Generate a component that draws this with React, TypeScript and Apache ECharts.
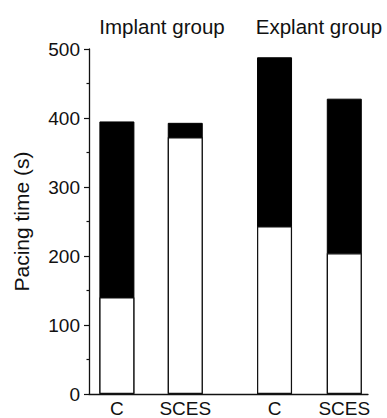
import React, { useEffect, useRef } from "react";
import * as echarts from "echarts";

const categories = ["C", "SCES", "C", "SCES"];
const positions = [1, 3.45, 6.65, 9.15];
const totals = [395, 393, 488, 428];
const whiteParts = [140, 372, 243, 204];
const groupTitles = ["Implant group", "Explant group"];
const yTicks = [0, 100, 200, 300, 400, 500];

const FONT = "'Liberation Sans', Arial, Helvetica, sans-serif";
const INK = "#111";

export default function App() {
  const ref = useRef<HTMLDivElement>(null);
  useEffect(() => {
    if (!ref.current) return;
    const chart = echarts.init(ref.current, undefined, { renderer: "svg" });
    const totalData = positions.map((x, i) => [x, totals[i]]);
    const whiteData = positions.map((x, i) => [x, whiteParts[i]]);
    chart.setOption({
      animation: false,
      backgroundColor: "#fff",
      textStyle: { fontFamily: FONT, color: INK },
      title: [
        {
          text: groupTitles[0],
          left: 162,
          top: 16,
          padding: 0,
          textAlign: "center",
          textStyle: { fontFamily: FONT, fontSize: 20.5, fontWeight: "normal", color: INK },
        },
        {
          text: groupTitles[1],
          left: 319,
          top: 16,
          padding: 0,
          textAlign: "center",
          textStyle: { fontFamily: FONT, fontSize: 20.5, fontWeight: "normal", color: INK },
        },
      ],
      grid: { left: 89, right: 19, top: 49, bottom: 23, containLabel: false },
      xAxis: {
        type: "value",
        min: 0,
        max: 10,
        splitLine: { show: false },
        axisTick: { show: false },
        axisLine: { show: true, onZero: false, lineStyle: { color: INK, width: 1.3 } },
        axisLabel: {
          customValues: positions,
          formatter: (v: number) => {
            const i = positions.indexOf(v);
            return i >= 0 ? categories[i] : "";
          },
          fontFamily: FONT,
          fontSize: 19,
          color: INK,
          margin: 5,
        },
      },
      yAxis: {
        type: "value",
        min: 0,
        max: 500,
        interval: 100,
        name: "Pacing time (s)",
        nameLocation: "middle",
        nameGap: 57,
        nameTextStyle: { fontFamily: FONT, fontSize: 21, color: INK },
        splitLine: { show: false },
        axisLine: { show: true, lineStyle: { color: INK, width: 1.3 } },
        axisTick: { show: true, length: 5, lineStyle: { color: INK, width: 1.2 } },
        minorTick: { show: true, splitNumber: 2, length: 2.5, lineStyle: { color: INK, width: 1.2 } },
        axisLabel: {
          fontFamily: FONT,
          fontSize: 19,
          color: INK,
          margin: 9,
          formatter: (v: number) => (yTicks.includes(v) ? String(v) : ""),
        },
      },
      series: [
        {
          type: "bar",
          barWidth: 35,
          data: totalData,
          itemStyle: { color: "#000", borderColor: "#000", borderWidth: 1 },
        },
        {
          type: "bar",
          barWidth: 35,
          barGap: "-100%",
          data: whiteData,
          itemStyle: { color: "#fff", borderColor: INK, borderWidth: 1.2 },
        },
      ],
    });
    return () => chart.dispose();
  }, []);
  return <div ref={ref} style={{ width: 387, height: 418, position: "absolute", left: 0, top: 0 }} />;
}
